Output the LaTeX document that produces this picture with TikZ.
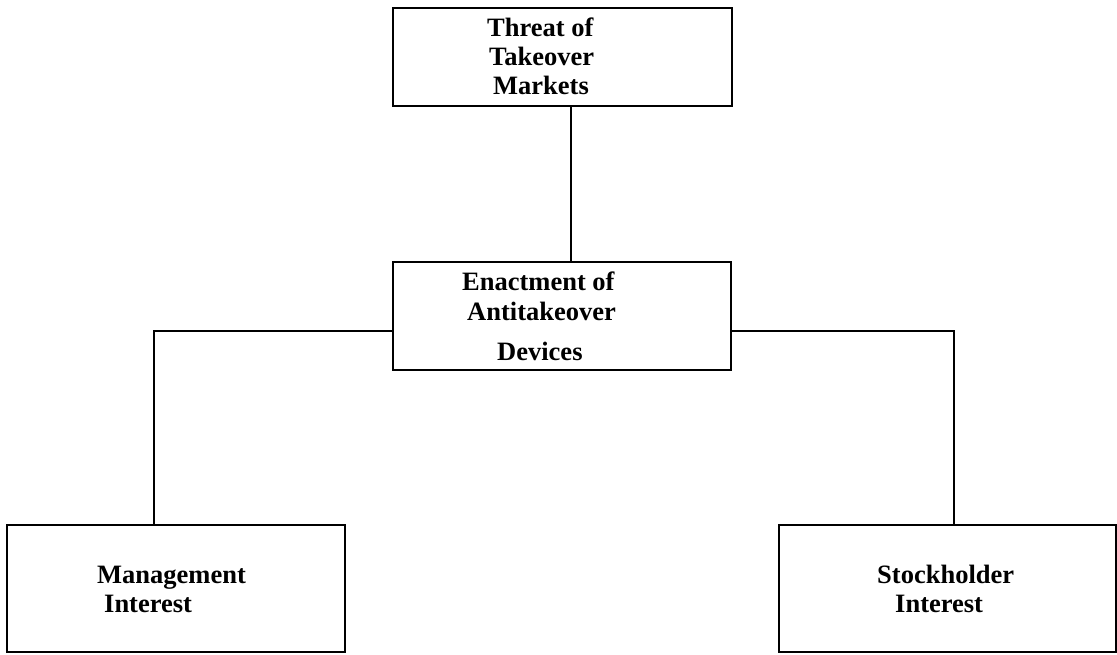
\documentclass[tikz,border=0pt]{standalone}
\usepackage{fontspec}
\setmainfont{Liberation Serif}
\begin{document}
\begin{tikzpicture}[x=1pt,y=-1pt,
  box/.style={draw,line width=1.6pt,inner sep=0pt,minimum width=#1},
  box/.default=338pt,
  txt/.style={anchor=base west,inner sep=0pt,font=\fontsize{26.5}{30}\selectfont\bfseries},
  link/.style={line width=1.2pt}]
\useasboundingbox (0,0) rectangle (1117,654);
\node[box=339pt,minimum height=98pt] (top) at (562.5,57) {};
\node[box,minimum height=108pt] (mid) at (562,316) {};
\node[box,minimum height=127pt] (mgmt) at (176,588.5) {};
\node[box=337pt,minimum height=127pt] (stock) at (947.5,588.5) {};
\node[txt] (t1) at (487,36) {Threat of};
\node[txt] (t2) at (489,65) {Takeover};
\node[txt] (t3) at (493,94) {Markets};
\node[txt] (m1) at (462,290) {Enactment of};
\node[txt] (m2) at (467,320) {Antitakeover};
\node[txt] (m3) at (497,360) {Devices};
\node[txt] (a1) at (97,583) {Management};
\node[txt] (a2) at (104,612) {Interest};
\node[txt] (b1) at (877,583) {Stockholder};
\node[txt] (b2) at (895,612) {Interest};
\coordinate (c1) at (571,0);
\coordinate (lk) at (154,331);
\coordinate (rk) at (954,331);
\draw[link] (top.south -| c1) -- (mid.north -| c1);
\draw[link] (mid.west |- lk) -- (lk) -- (lk |- mgmt.north);
\draw[link] (mid.east |- rk) -- (rk) -- (rk |- stock.north);
\end{tikzpicture}
\end{document}
